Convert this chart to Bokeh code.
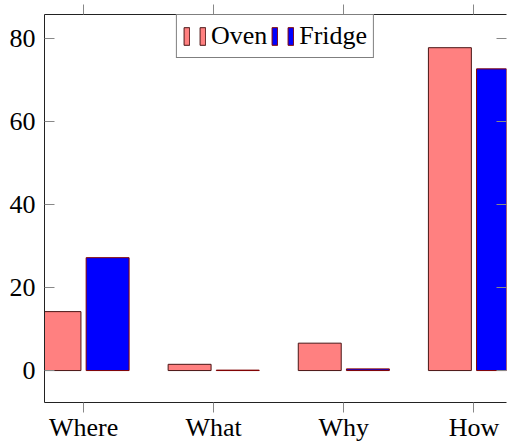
from bokeh.plotting import figure
from bokeh.models import (Range1d, LinearAxis, FixedTicker, Legend, LegendItem,
                          ColumnDataSource, CustomLabelingPolicy)
from bokeh.transform import dodge
from bokeh.core.properties import value
from bokeh.embed import file_html
from bokeh.resources import INLINE

categories = ["Where", "What", "Why", "How"]
oven = [14.2, 1.5, 6.6, 77.8]
fridge = [27.2, 0.1, 0.4, 72.7]
y_ticks = [0, 20, 40, 60, 80]

xpos = list(range(len(categories)))
src = ColumnDataSource(dict(x=xpos, oven=oven, fridge=fridge))

FONT = "Liberation Serif"
FS = "26px"

p = figure(width=510, height=444,
           x_range=Range1d(-0.3, 3.25), y_range=Range1d(-7.7, 85.8),
           output_backend="svg", toolbar_location=None,
           min_border_left=44, min_border_top=14, min_border_right=0,
           min_border_bottom=0)
p.outline_line_color = None
p.xgrid.visible = False
p.ygrid.visible = False
p.background_fill_color = "white"
p.border_fill_color = "white"

r_oven = p.vbar(x=dodge("x", -0.185, range=p.x_range), top="oven", bottom=0,
                width=0.33, source=src, fill_color="#FF8080",
                line_color="#4a1515", line_width=1)
r_fridge = p.vbar(x=dodge("x", 0.185, range=p.x_range), top="fridge", bottom=0,
                  width=0.33, source=src, fill_color="#0000FF",
                  line_color="#800000", line_width=1)

# left axis
ya = p.yaxis[0]
ya.ticker = FixedTicker(ticks=y_ticks)
ya.major_tick_in = 10
ya.major_tick_out = 0
ya.minor_tick_line_color = None
ya.major_tick_line_color = "#888888"
ya.axis_line_color = "#222222"
ya.major_label_standoff = 9
ya.major_label_text_font = FONT
ya.major_label_text_font_size = FS
ya.major_label_text_color = "black"

# bottom axis
xa = p.xaxis[0]
xa.ticker = FixedTicker(ticks=xpos)
xa.major_label_overrides = {i: c for i, c in zip(xpos, categories)}
xa.major_tick_in = 0
xa.major_tick_out = 10
xa.minor_tick_line_color = None
xa.major_tick_line_color = "#888888"
xa.axis_line_color = "#222222"
xa.major_label_standoff = 0
xa.major_label_text_font = FONT
xa.major_label_text_font_size = FS
xa.major_label_text_color = "black"

no_labels = CustomLabelingPolicy(code="""
    for (const i of [...indices]) indices.unset(i)
    return indices
""")

# top axis (ticks only)
ta = LinearAxis(ticker=FixedTicker(ticks=xpos), major_tick_in=0, major_tick_out=10,
                minor_tick_line_color=None, major_tick_line_color="#888888",
                axis_line_color="#222222", major_label_standoff=0,
                major_label_text_font_size="1px", major_label_policy=no_labels)
p.add_layout(ta, "above")

# right axis (ticks only)
ra = LinearAxis(ticker=FixedTicker(ticks=y_ticks), major_tick_in=10, major_tick_out=0,
                minor_tick_line_color=None, major_tick_line_color="#888888",
                axis_line_color=None, major_label_standoff=0,
                major_label_text_font_size="1px", major_label_policy=no_labels)
p.add_layout(ra, "right")

legend = Legend(items=[
    LegendItem(label=value(""), renderers=[r_oven]),
    LegendItem(label=value("Oven"), renderers=[r_oven]),
    LegendItem(label=value(""), renderers=[r_fridge]),
    LegendItem(label=value("Fridge"), renderers=[r_fridge]),
], orientation="horizontal", location="top_center", margin=0, padding=6,
    spacing=4, label_standoff=5, glyph_width=7, glyph_height=22, label_width=0,
    label_text_font=FONT, label_text_font_size=FS, label_text_color="black",
    border_line_color="black", border_line_width=1, background_fill_alpha=1.0)
p.add_layout(legend, "center")

open("out.html", "w").write(file_html(p, INLINE))
